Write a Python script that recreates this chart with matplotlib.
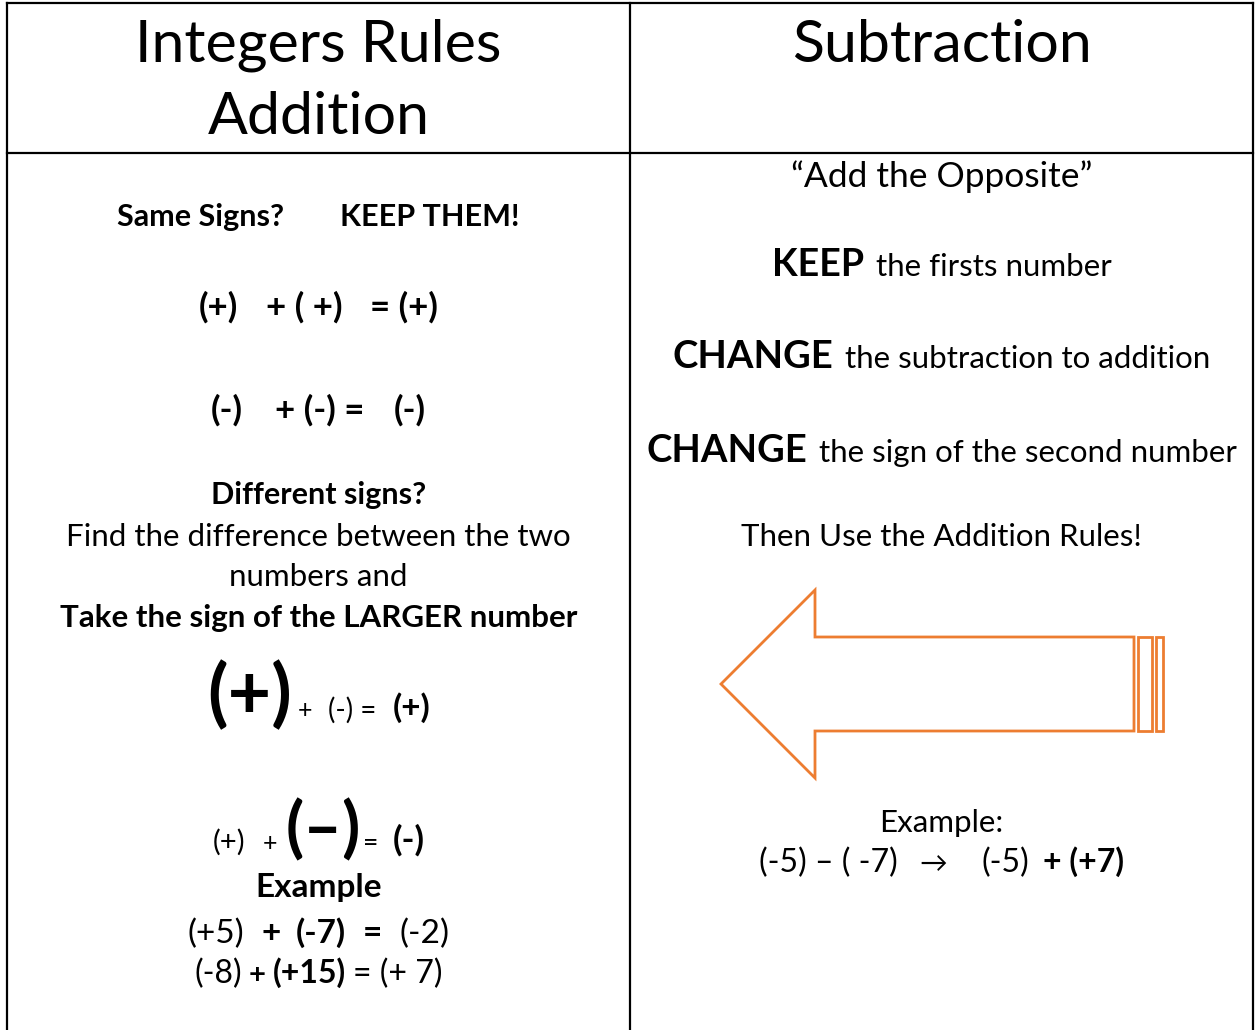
import matplotlib
matplotlib.use("Agg")
import matplotlib.pyplot as plt
from matplotlib.offsetbox import TextArea, HPacker, DrawingArea, AnnotationBbox
from matplotlib.patches import Polygon, Rectangle

plt.rcParams['font.family'] = ['Lato', 'DejaVu Sans']

W, H = 1259, 1030
DPI = 100

# ---- text content ----
header_left = ["Integers Rules", "Addition"]
header_right = ["Subtraction"]

# each line: list of parts (text, size_pt, weight) or gap in px (int)
left_lines = [
    [("Same Signs?", 22, "bold"), 56, ("KEEP THEM!", 22, "bold")],
    [("(+)", 25, "bold"), 28, ("+ ( +)", 25, "bold"), 28, ("= (+)", 25, "bold")],
    [("(-)", 25, "bold"), 32, ("+ (-) =", 25, "bold"), 30, ("(-)", 25, "bold")],
    [("Different signs?", 22, "bold")],
    [("Find the difference between the two", 22.5, "normal")],
    [("numbers and", 22.5, "normal")],
    [("Take the sign of the LARGER number", 22.5, "bold")],
    [("(+)", 54, "bold"), 6, ("+", 18, "normal"), 16, ("(-) =", 20, "normal"), 16, ("(+)", 24, "bold")],
    [("(+)", 21, "normal"), 18, ("+", 18, "normal"), 8, ("(\u2013)", 48, "bold"), 2, ("=", 19, "normal"), 14, ("(-)", 25, "bold")],
    [("Example", 24, "bold")],
    [("(+5)", 24, "normal"), 17, ("+", 24, "bold"), 15, ("(-7)", 24, "bold"), 17, ("=", 24, "bold"), 17, ("(-2)", 24, "normal")],
    [("(-8)", 23, "normal"), 7, ("+", 21, "bold"), 7, ("(+15)", 23, "bold"), 7, ("= (+ 7)", 23, "normal")],
]
left_y = [217, 307, 410, 495, 537, 577, 618, 696, 831, 887, 933, 973]

right_lines = [
    [("\u201cAdd the Opposite\u201d", 25.5, "normal")],
    [("KEEP", 27, "bold"), 12, ("the firsts number", 22.5, "normal")],
    [("CHANGE", 27.5, "bold"), 12, ("the subtraction to addition", 22.5, "normal")],
    [("CHANGE", 27.5, "bold"), 12, ("the sign of the second number", 22.5, "normal")],
    [("Then Use the Addition Rules!", 22.5, "normal")],
    [("Example:", 22.5, "normal")],
    [("(-5) \u2013 ( -7)", 23, "normal"), 22, ("\u2192", 20, "normal"), 34, ("(-5)", 23, "normal"), 14, ("+ (+7)", 23, "bold")],
]
right_y = [177, 265, 357, 451, 537, 823, 862]

# ---- layout ----
x_left, x_mid, x_right = 7, 630, 1253
y_top, y_head = 3, 153
cx_left = (x_left + x_mid) / 2
cx_right = (x_mid + x_right) / 2
ARROW_COLOR = "#ED7D31"

fig = plt.figure(figsize=(W / DPI, H / DPI), dpi=DPI)
ax = fig.add_axes([0, 0, 1, 1])
ax.set_xlim(0, W)
ax.set_ylim(H, 0)
ax.axis("off")

lw = 1.6
ax.plot([x_left, x_right], [y_top, y_top], color="black", lw=lw)
ax.plot([x_left, x_right], [y_head, y_head], color="black", lw=lw)
for xx in (x_left, x_mid, x_right):
    ax.plot([xx, xx], [y_top, H + 5], color="black", lw=lw)

# headers
for i, t in enumerate(header_left):
    ax.text(cx_left, 45 + 73 * i, t, fontsize=42.5, ha="center", va="center")
ax.text(cx_right, 45, header_right[0], fontsize=42.5, ha="center", va="center")


def draw_line(x, y, parts):
    children = []
    for p in parts:
        if isinstance(p, (int, float)):
            children.append(DrawingArea(p * 72 / DPI, 1))
        else:
            txt, size, weight = p
            children.append(TextArea(txt, textprops=dict(fontsize=size, fontweight=weight)))
    box = HPacker(children=children, sep=0, pad=0, align="baseline")
    ab = AnnotationBbox(box, (x, y), xycoords="data", box_alignment=(0.5, 0.5),
                        frameon=False, pad=0)
    ax.add_artist(ab)


for parts, y in zip(left_lines, left_y):
    draw_line(cx_left, y, parts)
for parts, y in zip(right_lines, right_y):
    draw_line(cx_right, y, parts)

# arrow shape
arrow_pts = [(721, 684), (815, 590), (815, 637), (1134, 637), (1134, 731),
             (815, 731), (815, 778)]
ax.add_patch(Polygon(arrow_pts, closed=True, fill=False, edgecolor=ARROW_COLOR, lw=2))
ax.add_patch(Rectangle((1138, 637), 14, 94, fill=False, edgecolor=ARROW_COLOR, lw=2))
ax.add_patch(Rectangle((1156, 637), 7, 94, fill=False, edgecolor=ARROW_COLOR, lw=2))

fig.savefig("out.png", dpi=DPI, facecolor="white")
